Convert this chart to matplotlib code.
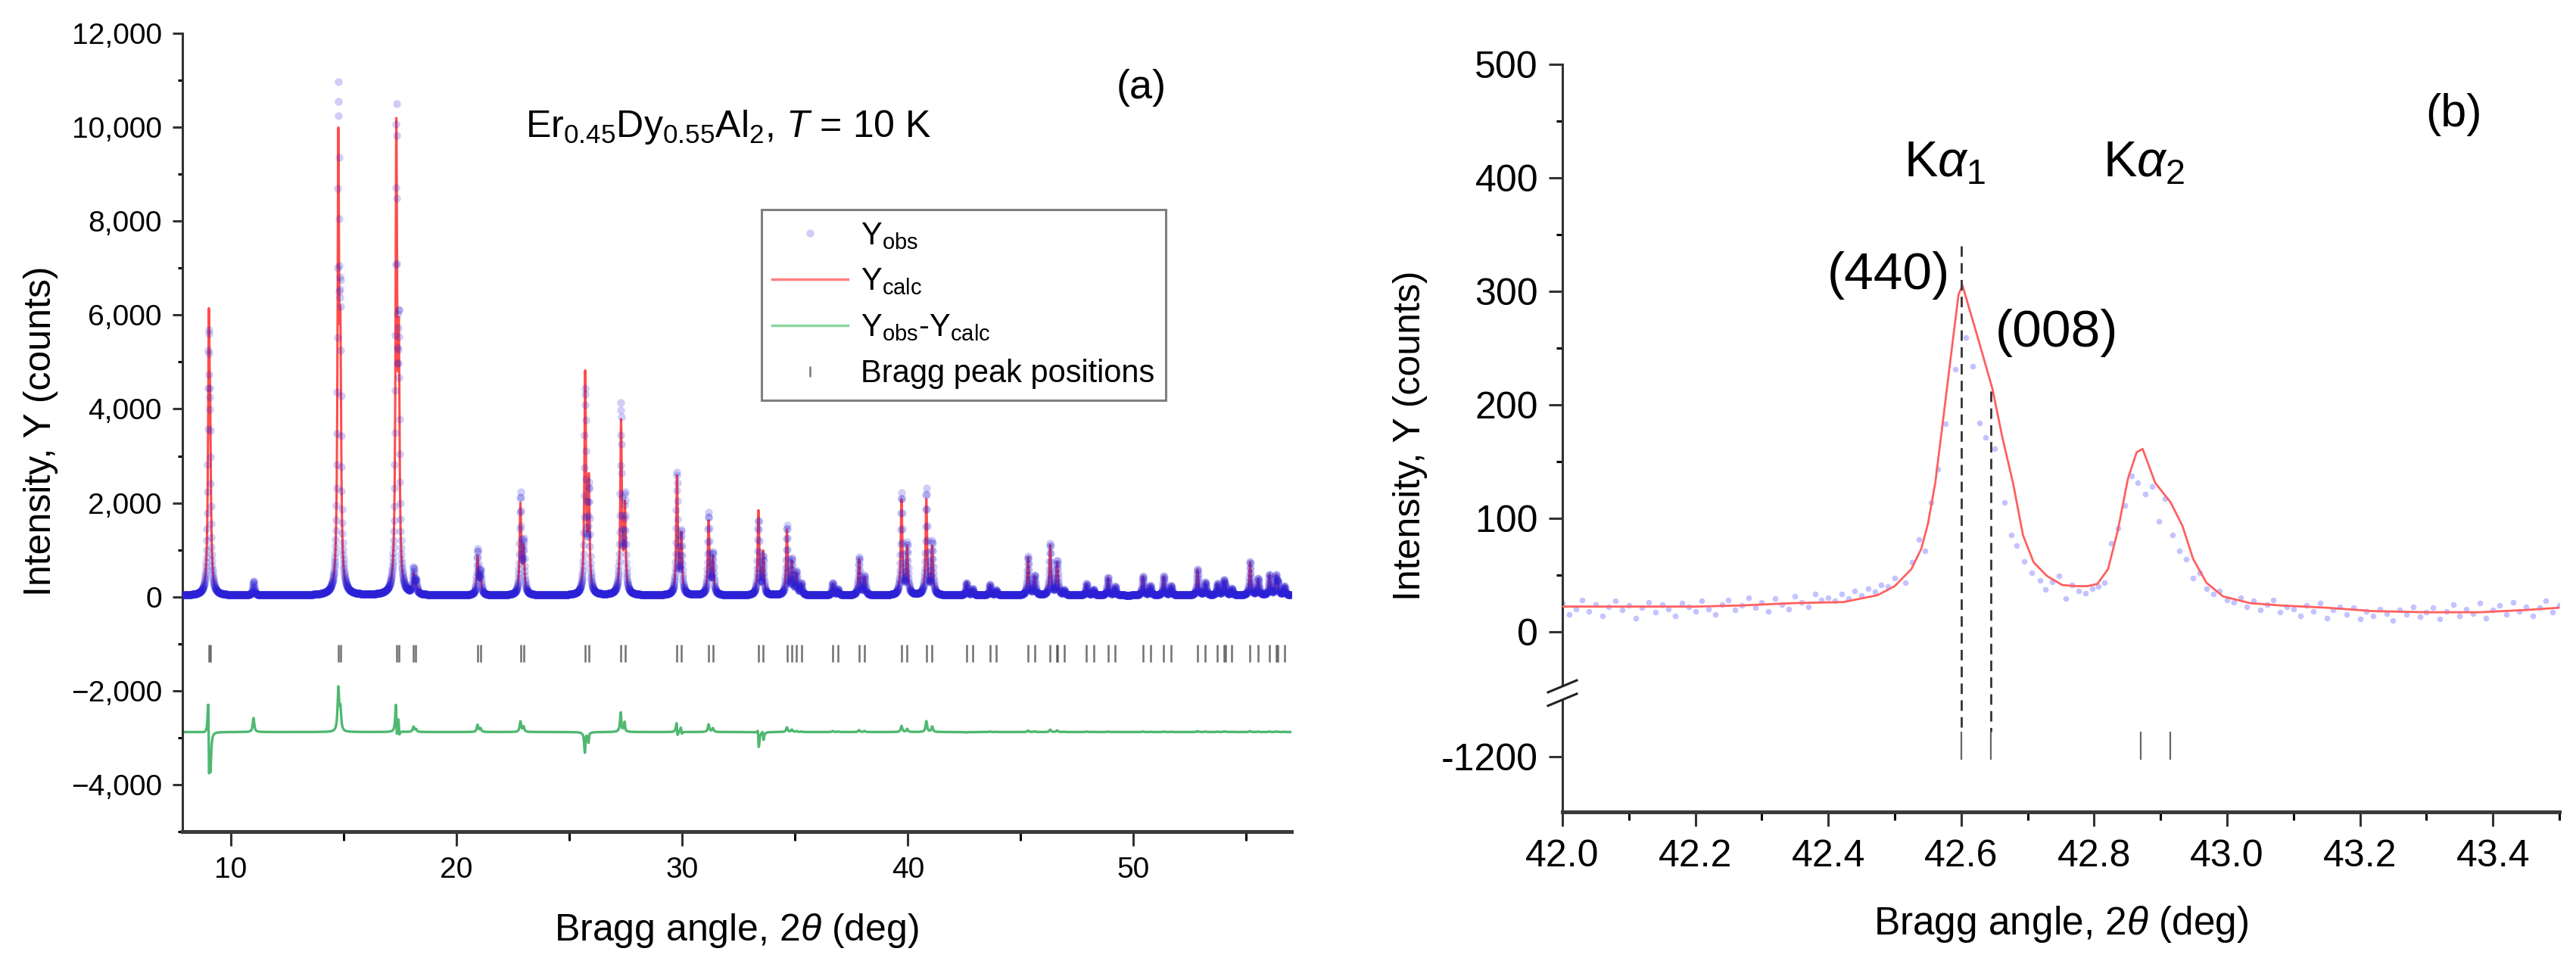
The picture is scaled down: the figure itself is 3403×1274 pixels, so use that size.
import numpy as np
import matplotlib
matplotlib.use('Agg')
import matplotlib.pyplot as plt
from matplotlib.ticker import MultipleLocator, FixedLocator, FuncFormatter
from matplotlib.patches import Rectangle
from matplotlib.lines import Line2D

plt.rcParams['font.family'] = ['Liberation Sans', 'DejaVu Sans']
plt.rcParams['mathtext.fontset'] = 'custom'
plt.rcParams['mathtext.rm'] = 'Liberation Sans'
plt.rcParams['mathtext.it'] = 'Liberation Sans:italic'
plt.rcParams['mathtext.bf'] = 'Liberation Sans:bold'

# ---------------- (a) full pattern ----------------
# reflection positions (deg), K-alpha1 and K-alpha2 lines
ka1_pos = [9.02, 14.76, 17.33, 18.09, 20.93, 22.83, 25.70, 27.29, 29.77, 31.17,
           33.38, 34.64, 35.06, 36.67, 37.84, 39.72, 40.82, 42.60, 43.64, 45.33,
           46.31, 46.63, 47.92, 48.87, 50.42, 51.34, 52.84, 53.72, 54.01, 55.17,
           56.03, 56.32]
ka2_pos = [9.08, 14.85, 17.44, 18.20, 21.06, 22.97, 25.86, 27.46, 29.96, 31.36,
           33.59, 34.86, 35.28, 36.90, 38.08, 39.97, 41.08, 42.87, 43.92, 45.62,
           46.61, 46.93, 48.23, 49.19, 50.75, 51.67, 53.19, 54.07, 54.36, 55.53,
           56.40, 56.69]
# peak heights (counts) of the K-alpha1 line
calc_height = [5300, 9200, 9600, 420, 800, 1900, 4650, 3650, 2500, 1560,
               1780, 1370, 450, 240, 760, 2020, 2020, 280, 220, 800,
               1050, 200, 240, 370, 400, 400, 540, 240, 280, 700,
               430, 380]
obs_height = [4900, 10100, 9900, 530, 950, 2120, 4300, 4000, 2580, 1720,
              1580, 1470, 470, 260, 800, 2150, 2250, 270, 230, 830,
              1100, 210, 250, 380, 410, 410, 560, 250, 290, 720,
              440, 390]
obs_shift = [-0.010, 0.0, -0.002, 0.0, 0.0, 0.0, 0.002, -0.002, -0.003, 0.0,
             -0.006, 0.0, 0.0, 0.0, 0.0, 0.0, 0.0, 0.0, 0.0, 0.0,
             0.0, 0.0, 0.0, 0.0, 0.0, 0.0, 0.0, 0.0, 0.0, 0.0,
             0.0, 0.0]
impurity_pos = [11.0]
impurity_height = [300]
background = 30
hwhm = 0.04
diff_offset = -2880
scan_a = np.arange(7.9, 57.0, 0.01)

# ---------------- (b) zoom on (440)/(008) ----------------
obs_b_x = [42.00, 42.01, 42.02, 42.03, 42.04, 42.05, 42.06, 42.07, 42.08, 42.09,
           42.10, 42.11, 42.12, 42.13, 42.14, 42.15, 42.16, 42.17, 42.18, 42.19,
           42.20, 42.21, 42.22, 42.23, 42.24, 42.25, 42.26, 42.27, 42.28, 42.29,
           42.30, 42.31, 42.32, 42.33, 42.34, 42.35, 42.36, 42.37, 42.38, 42.39,
           42.40, 42.41, 42.42, 42.43, 42.44, 42.45, 42.46, 42.47, 42.48, 42.49,
           42.50, 42.516, 42.526, 42.536, 42.545, 42.555, 42.565, 42.576, 42.591, 42.607,
           42.617, 42.627, 42.637, 42.650, 42.665, 42.675, 42.683, 42.695, 42.706, 42.719,
           42.727, 42.737, 42.747, 42.757, 42.767, 42.777, 42.787, 42.797, 42.806, 42.816,
           42.826, 42.836, 42.846, 42.856, 42.866, 42.877, 42.887, 42.897, 42.907, 42.918,
           42.928, 42.938, 42.949, 42.959, 42.969, 42.979, 42.989, 43.00, 43.01, 43.02,
           43.03, 43.04, 43.05, 43.06, 43.07, 43.08, 43.09, 43.10, 43.11, 43.12,
           43.13, 43.14, 43.15, 43.16, 43.17, 43.18, 43.19, 43.20, 43.21, 43.22,
           43.23, 43.24, 43.25, 43.26, 43.27, 43.28, 43.29, 43.30, 43.31, 43.32,
           43.33, 43.34, 43.35, 43.36, 43.37, 43.38, 43.39, 43.40, 43.41, 43.42,
           43.43, 43.44, 43.45, 43.46, 43.47, 43.48, 43.49, 43.50]
obs_b_y = [25, 15, 20, 28, 18, 24, 14, 22, 27, 19,
           23, 12, 21, 26, 17, 24, 20, 14, 25, 22,
           18, 27, 20, 15, 24, 28, 19, 23, 30, 21,
           26, 18, 29, 24, 20, 31, 26, 22, 33, 28,
           30, 27, 33, 29, 36, 32, 38, 35, 41, 40,
           47, 43, 61, 81, 71, 114, 143, 183, 231, 259,
           234, 184, 171, 161, 114, 85, 76, 62, 52, 45,
           37, 44, 49, 29, 41, 36, 34, 38, 40, 43,
           78, 91, 111, 137, 131, 121, 128, 97, 117, 85,
           71, 64, 47, 52, 38, 33, 36, 28, 26, 30,
           22, 27, 19, 24, 28, 17, 22, 20, 14, 23,
           18, 25, 12, 19, 22, 15, 21, 11, 18, 14,
           20, 16, 10, 19, 15, 22, 13, 17, 21, 11,
           18, 24, 14, 20, 16, 25, 12, 19, 23, 15,
           26, 18, 22, 14, 21, 27, 17, 23]
calc_b_x = [42.00, 42.10, 42.20, 42.27, 42.346, 42.423, 42.474, 42.50, 42.525, 42.540,
            42.550, 42.561, 42.571, 42.581, 42.596, 42.602, 42.627, 42.647, 42.662, 42.678,
            42.693, 42.709, 42.729, 42.752, 42.773, 42.79, 42.805, 42.821, 42.836, 42.851,
            42.864, 42.873, 42.892, 42.915, 42.933, 42.949, 42.969, 42.994, 43.035, 43.08,
            43.15, 43.22, 43.30, 43.38, 43.45, 43.50]
calc_b_y = [22, 22, 22, 23, 25, 26, 32, 40, 55, 73,
            95, 131, 178, 226, 297, 305, 255, 214, 171, 131,
            85, 61, 49, 41, 40, 40, 42, 55, 90, 135,
            158, 161, 131, 114, 93, 64, 43, 31, 25, 23,
            21, 18, 17, 17, 19, 21]
bragg_b = [42.60, 42.645, 42.87, 42.915]
hkl_labels = ['(440)', '(008)']
hkl_top = [340, 212]

W, H = 3403, 1274


def px(x, y):
    return x / W, 1 - y / H


def lorentz_sum(x, centers, heights):
    out = np.zeros_like(x)
    for c, h in zip(centers, heights):
        out += h / (1 + ((x - c) / hwhm) ** 2)
    return out


ka1 = np.array(ka1_pos)
ka2 = np.array(ka2_pos)
hc = np.array(calc_height, float)
ho = np.array(obs_height, float)
sh = np.array(obs_shift)

y_calc = background + lorentz_sum(scan_a, ka1, hc) + lorentz_sum(scan_a, ka2, 0.5 * hc)
y_obs = (background + lorentz_sum(scan_a, ka1 + sh, ho) + lorentz_sum(scan_a, ka2 + sh, 0.5 * ho)
         + lorentz_sum(scan_a, np.array(impurity_pos), np.array(impurity_height, float)))
y_diff = y_obs - y_calc + diff_offset

fig = plt.figure(figsize=(W / 100, H / 100), dpi=100)

# ---------- panel (a) ----------
ax1 = fig.add_axes([241 / W, 1 - 1099 / H, 1465 / W, 1055 / H])
ax1.plot(scan_a, y_calc, color='#ff2d2d', lw=2.2, alpha=0.85, zorder=2)
obs_line, = ax1.plot(scan_a, y_obs, linestyle='none', marker='o', markersize=7.5,
                     markeredgewidth=0, color='#2b20d8', alpha=0.22, zorder=3)
diff_line, = ax1.plot(scan_a, y_diff, color='#16a040', lw=2.4, alpha=0.75, zorder=2)
ax1.vlines(ka1_pos + ka2_pos, -1390, -1020, color='#4d4d4d', lw=1.8, alpha=0.8)

ax1.set_xlim(7.85, 57.0)
ax1.set_ylim(-5000, 12000)
ax1.xaxis.set_major_locator(MultipleLocator(10))
ax1.xaxis.set_minor_locator(MultipleLocator(5))
ax1.yaxis.set_major_locator(MultipleLocator(2000))
ax1.yaxis.set_minor_locator(MultipleLocator(1000))
ax1.yaxis.set_major_formatter(FuncFormatter(lambda v, p: f'{v:,.0f}'.replace('-', '\u2212')))
ax1.tick_params(axis='both', labelsize=28, width=2.2, color='#333333')
ax1.tick_params(axis='y', which='major', length=9.5, pad=10)
ax1.tick_params(axis='y', which='minor', length=4.5, width=2.2)
ax1.tick_params(axis='x', which='major', length=14, pad=10)
ax1.tick_params(axis='x', which='minor', length=8.5, width=2.2)
for s in ['top', 'right']:
    ax1.spines[s].set_visible(False)
ax1.spines['left'].set_linewidth(2.2)
ax1.spines['left'].set_color('#333333')
ax1.spines['bottom'].set_linewidth(3.6)
ax1.spines['bottom'].set_color('#3a3a3a')

bragg_handle = Line2D([], [], linestyle='none', marker='|', markersize=10,
                      markeredgewidth=1.8, color='#777777')
calc_handle = Line2D([], [], color='#ff8080', lw=2.5)
diff_handle = Line2D([], [], color='#8fd49f', lw=2.5)
leg = ax1.legend([obs_line, calc_handle, diff_handle, bragg_handle],
                 [r'Y$_{\mathrm{obs}}$', r'Y$_{\mathrm{calc}}$',
                  r'Y$_{\mathrm{obs}}$-Y$_{\mathrm{calc}}$', 'Bragg peak positions'],
                 loc='upper left', bbox_to_anchor=(0.522, 0.779), fontsize=30,
                 frameon=True, fancybox=False, edgecolor='#808080', framealpha=1,
                 handlelength=2.4, handletextpad=0.4, borderpad=0.35, labelspacing=0.5,
                 borderaxespad=0)
leg.get_frame().set_linewidth(2.2)

ax1.text(23.05, 9800, r'Er$_{0.45}$Dy$_{0.55}$Al$_2$, $T$ = 10 K', fontsize=36,
         ha='left', va='baseline')
ax1.text(0.887, 0.932, '(a)', transform=ax1.transAxes, fontsize=39, ha='right', va='center')
fig.text(*px(54, 570), 'Intensity, Y (counts)', rotation=90, ha='center', va='center', fontsize=36)
fig.text(*px(973, 1230), r'Bragg angle, 2$\theta$ (deg)', ha='center', va='center', fontsize=36)


# ---------- panel (b) with broken y axis ----------
def fwd(y):
    y = np.asarray(y, float)
    return np.where(y >= -57, y, np.where(y <= -1147, y + 1090, -57.0))


def inv(v):
    v = np.asarray(v, float)
    return np.where(v >= -57, v, v - 1090)


ax2 = fig.add_axes([2064 / W, 1 - 1073 / H, 1317 / W, 988 / H])
ax2.set_yscale('function', functions=(fwd, inv))
ax2.plot(obs_b_x, obs_b_y, linestyle='none', marker='o', markersize=5.5,
         markeredgewidth=0, color='#c3c3ff', zorder=2)
ax2.plot(calc_b_x, calc_b_y, color='#ff6060', lw=2.0, zorder=3)
for xb, top in zip(bragg_b[:2], hkl_top):
    ax2.plot([xb, xb], [top, -1178], color='#333333', lw=2.0, dashes=(5, 3), zorder=4)
ax2.vlines(bragg_b, -1203, -1178, color='#666666', lw=1.6, zorder=4)

ax2.set_xlim(42.0, 43.5)
ax2.set_ylim(-1249, 500)
ax2.xaxis.set_major_locator(MultipleLocator(0.2))
ax2.xaxis.set_minor_locator(MultipleLocator(0.1))
ax2.xaxis.set_major_formatter(FuncFormatter(lambda v, p: f'{v:.1f}'))
ax2.yaxis.set_major_locator(FixedLocator([-1200, 0, 100, 200, 300, 400, 500]))
ax2.yaxis.set_minor_locator(FixedLocator([50, 150, 250, 350, 450]))
ax2.yaxis.set_major_formatter(FuncFormatter(lambda v, p: f'{v:.0f}'))
ax2.yaxis.set_minor_formatter(FuncFormatter(lambda v, p: ''))
ax2.tick_params(axis='both', labelsize=36, width=2.2, color='#333333')
ax2.tick_params(axis='y', which='major', length=13, pad=10)
ax2.tick_params(axis='y', which='minor', length=6, width=2.2)
ax2.tick_params(axis='x', which='major', length=14, pad=12)
ax2.tick_params(axis='x', which='minor', length=8, width=2.2)
for s in ['top', 'right']:
    ax2.spines[s].set_visible(False)
ax2.spines['left'].set_linewidth(2.2)
ax2.spines['left'].set_color('#333333')
ax2.spines['bottom'].set_linewidth(3.6)
ax2.spines['bottom'].set_color('#3a3a3a')

# break marks on the y axis
ax2.add_patch(Rectangle((-0.01, 0.150), 0.02, 0.018, transform=ax2.transAxes,
                        facecolor='white', edgecolor='none', clip_on=False, zorder=5))
for yb in [0.150, 0.168]:
    ax2.plot([-0.0144, 0.0144], [yb - 0.008, yb + 0.008], transform=ax2.transAxes,
             color='#222222', lw=2.2, clip_on=False, zorder=6)

ax2.text(42.514, 401, r'K$\alpha_1$', fontsize=48, ha='left', va='baseline')
ax2.text(42.813, 401, r'K$\alpha_2$', fontsize=48, ha='left', va='baseline')
ax2.text(42.583, 314, hkl_labels[0], fontsize=50, ha='right', va='center')
ax2.text(42.651, 263, hkl_labels[1], fontsize=50, ha='left', va='center')
ax2.text(0.894, 0.933, '(b)', transform=ax2.transAxes, fontsize=44, ha='center', va='center')
fig.text(*px(1863, 576), 'Intensity, Y (counts)', rotation=90, ha='center', va='center', fontsize=36)
fig.text(*px(2723, 1222), r'Bragg angle, 2$\theta$ (deg)', ha='center', va='center', fontsize=37)

fig.savefig('out.png', dpi=100)
